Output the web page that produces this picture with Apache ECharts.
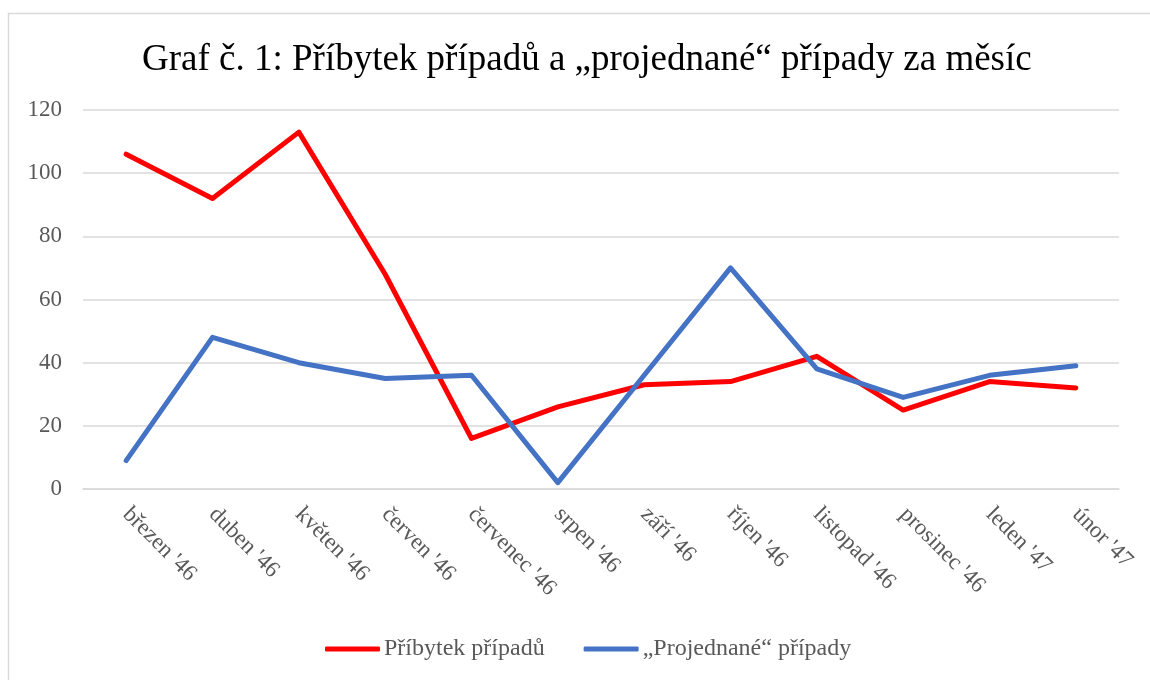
<!DOCTYPE html>
<html>
<head>
<meta charset="utf-8">
<script src="https://cdn.jsdelivr.net/npm/echarts@6/dist/echarts.min.js"></script>
<style>
  html, body { margin: 0; padding: 0; background: #fff; }
  #chart { width: 1150px; height: 680px; }
</style>
</head>
<body>
<div id="chart"></div>
<script>
// kategorie (měsíce)
const months = ["březen '46", "duben '46", "květen '46", "červen '46", "červenec '46", "srpen '46",
  "září '46", "říjen '46", "listopad '46", "prosinec '46", "leden '47", "únor '47"]
// hodnoty
const pribytek = [106, 92, 113, 68, 16, 26, 33, 34, 42, 25, 34, 32]
const projednane = [9, 48, 40, 35, 36, 2, 36, 70, 38, 29, 36, 39]
const seriesNames = ['Příbytek případů', '„Projednané“ případy']

const font = 'Liberation Serif, Times New Roman, serif'
const chart = echarts.init(document.getElementById('chart'))

chart.setOption({
  animation: false,
  graphic: [{
    type: 'rect',
    shape: { x: 8.5, y: 13.5, width: 1150, height: 700 },
    style: { fill: 'none', stroke: '#d9d9d9', lineWidth: 1.5 }
  }],
  title: {
    text: 'Graf č. 1: Příbytek případů a „projednané“ případy za měsíc',
    left: 137,
    top: 37,
    textStyle: { fontFamily: font, fontSize: 37, fontWeight: 'normal', color: '#000' }
  },
  legend: {
    bottom: 14,
    left: 320,
    itemWidth: 55,
    itemHeight: 5,
    itemGap: 39,
    icon: 'roundRect',
    textStyle: { fontFamily: font, fontSize: 24, color: '#595959', padding: [0, 0, 0, -1] },
    data: seriesNames
  },
  grid: { left: 83, right: 31, top: 110, bottom: 191 },
  xAxis: {
    type: 'category',
    data: months,
    boundaryGap: true,
    axisLine: { show: true, lineStyle: { color: '#d9d9d9', width: 1.5 } },
    axisTick: { show: false },
    axisLabel: {
      rotate: -45,
      interval: 0,
      margin: 22,
      fontFamily: font,
      fontSize: 23,
      color: '#595959'
    }
  },
  yAxis: {
    type: 'value',
    min: 0,
    max: 120,
    interval: 20,
    axisLine: { show: false },
    axisTick: { show: false },
    splitLine: { lineStyle: { color: '#d9d9d9', width: 1.5 } },
    axisLabel: { fontFamily: font, fontSize: 23, color: '#595959', margin: 21 }
  },
  series: [
    {
      name: seriesNames[0],
      type: 'line',
      data: pribytek,
      symbol: 'none',
      lineStyle: { color: '#ff0000', width: 5, cap: 'round', join: 'round' },
      itemStyle: { color: '#ff0000' }
    },
    {
      name: seriesNames[1],
      type: 'line',
      data: projednane,
      symbol: 'none',
      lineStyle: { color: '#4472c4', width: 5, cap: 'round', join: 'round' },
      itemStyle: { color: '#4472c4' }
    }
  ]
})
</script>
</body>
</html>
